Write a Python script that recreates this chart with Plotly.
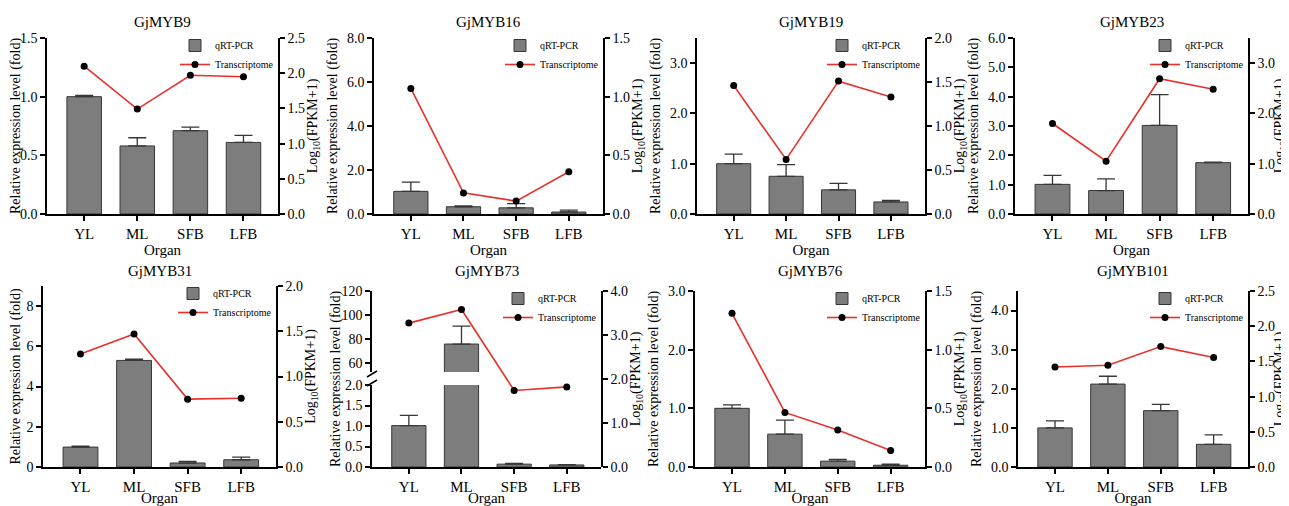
import plotly.graph_objects as go

# The page body keeps an 8px margin, so the figure is drawn 8px smaller and
# reference pixel positions are shifted by that offset.
PAGE_W, PAGE_H = 1289, 506
OFF = 8
W, H = PAGE_W - OFF, PAGE_H - OFF

organs = ["YL", "ML", "SFB", "LFB"]
gene_names = ["GjMYB9", "GjMYB16", "GjMYB19", "GjMYB23",
              "GjMYB31", "GjMYB73", "GjMYB76", "GjMYB101"]

# qRT-PCR relative expression (mean), error (upper SD), transcriptome log10(FPKM+1)
myb9_qpcr = [1.00, 0.58, 0.71, 0.61]
myb9_err = [0.01, 0.07, 0.03, 0.06]
myb9_fpkm = [2.10, 1.49, 1.97, 1.95]

myb16_qpcr = [1.03, 0.33, 0.28, 0.09]
myb16_err = [0.42, 0.04, 0.19, 0.09]
myb16_fpkm = [1.07, 0.18, 0.11, 0.36]

myb19_qpcr = [1.00, 0.75, 0.48, 0.24]
myb19_err = [0.19, 0.23, 0.13, 0.03]
myb19_fpkm = [1.46, 0.62, 1.51, 1.33]

myb23_qpcr = [1.01, 0.80, 3.02, 1.75]
myb23_err = [0.31, 0.40, 1.05, 0.02]
myb23_fpkm = [1.80, 1.05, 2.69, 2.48]

myb31_qpcr = [0.99, 5.30, 0.20, 0.36]
myb31_err = [0.05, 0.06, 0.08, 0.13]
myb31_fpkm = [1.25, 1.47, 0.75, 0.76]

myb73_qpcr = [1.01, 75.8, 0.07, 0.05]
myb73_err = [0.25, 15.0, 0.02, 0.01]
myb73_fpkm = [3.27, 3.58, 1.74, 1.82]

myb76_qpcr = [1.00, 0.56, 0.10, 0.03]
myb76_err = [0.06, 0.24, 0.03, 0.02]
myb76_fpkm = [1.31, 0.465, 0.315, 0.14]

myb101_qpcr = [1.00, 2.12, 1.44, 0.58]
myb101_err = [0.18, 0.20, 0.16, 0.24]
myb101_fpkm = [1.42, 1.445, 1.71, 1.555]

# axis settings
left_ranges = [[0, 1.5], [0, 8], [0, 3.5], [0, 6], [0, 9], [0, 2], [0, 3], [0, 4.5]]
left_dticks = [0.5, 2, 1, 1, 2, 0.5, 1, 1]
left_formats = [".1f", ".1f", ".1f", ".1f", "d", ".1f", ".1f", ".1f"]
right_ranges = [[0, 2.5], [0, 1.5], [0, 2], [0, 3.5], [0, 2], [0, 4], [0, 1.5], [0, 2.5]]
right_dticks = [0.5, 0.5, 0.5, 1, 0.5, 1, 0.5, 0.5]
myb73_upper_range = [52.5, 120]
myb73_upper_dtick = 20

qpcr_all = [myb9_qpcr, myb16_qpcr, myb19_qpcr, myb23_qpcr,
            myb31_qpcr, myb73_qpcr, myb76_qpcr, myb101_qpcr]
err_all = [myb9_err, myb16_err, myb19_err, myb23_err,
           myb31_err, myb73_err, myb76_err, myb101_err]
fpkm_all = [myb9_fpkm, myb16_fpkm, myb19_fpkm, myb23_fpkm,
            myb31_fpkm, myb73_fpkm, myb76_fpkm, myb101_fpkm]

# layout: panel boxes in page pixels (left, right, top, bottom)
boxes = [(47, 278, 38, 214), (374, 603, 38, 214), (697, 925, 38, 214), (1015, 1248, 38, 214),
         (43, 276, 286, 467), (372, 601, 291, 467), (695, 925, 291, 467), (1018, 1248, 291, 467)]
title_y = [22, 22, 22, 22, 271, 271, 271, 271]

FONT = "Liberation Serif, Times New Roman, Times, serif"
BAR_FILL = "#7d7d7d"
BAR_EDGE = "#363636"
RED = "#e8302c"


def fx(x):
    return (x - OFF) / W


def fy(y):
    return 1 - (y - OFF) / H


axis_common = dict(showline=True, linecolor="black", linewidth=1.5, ticks="outside",
                   ticklen=5, tickwidth=1.5, tickcolor="black", showgrid=False,
                   zeroline=False, tickfont=dict(family=FONT, size=14, color="black"))

fig = go.Figure()
layout = dict(width=W, height=H,
              margin=dict(l=0, r=0, t=0, b=0, pad=0, autoexpand=False), autosize=False,
              plot_bgcolor="rgba(0,0,0,0)", paper_bgcolor="white", showlegend=True,
              font=dict(family=FONT, color="black"), annotations=[], shapes=[])

for i in range(8):
    k = i + 1
    L, R, T, B = boxes[i]
    xn = "x" if k == 1 else f"x{k}"
    yl = "y" if k == 1 else f"y{k}"
    yr = f"y{k + 8}"
    lg = "legend" if k == 1 else f"legend{k}"

    bar_common = dict(x=organs, y=qpcr_all[i], name="qRT-PCR", width=0.65,
                      marker=dict(color=BAR_FILL, line=dict(color=BAR_EDGE, width=1)),
                      error_y=dict(type="data", array=err_all[i], arrayminus=[0] * 4,
                                   symmetric=False, color=BAR_EDGE, thickness=1.3, width=9),
                      legend=lg)
    fig.add_trace(go.Bar(xaxis=xn, yaxis=yl, showlegend=True, **bar_common))
    if k == 6:
        fig.add_trace(go.Bar(xaxis=xn, yaxis="y17", showlegend=False, **bar_common))
    fig.add_trace(go.Scatter(x=organs, y=fpkm_all[i], name="Transcriptome",
                             mode="lines+markers", xaxis=xn, yaxis=yr, legend=lg,
                             line=dict(color=RED, width=1.6),
                             marker=dict(color="black", size=7)))

    xkey = "xaxis" if k == 1 else f"xaxis{k}"
    layout[xkey] = dict(axis_common, domain=[fx(L), fx(R)], anchor=yl,
                        type="category", categoryorder="array", categoryarray=organs,
                        range=[-0.7, 3.65],
                        tickfont=dict(family=FONT, size=15, color="black"),
                        title=dict(text="Organ", font=dict(family=FONT, size=15), standoff=3))

    ykey = "yaxis" if k == 1 else f"yaxis{k}"
    left_title = dict(text="Relative expression level (fold)", font=dict(family=FONT, size=14),
                      standoff=6)
    right_title = dict(text="Log<sub>10</sub>(FPKM+1)", font=dict(family=FONT, size=14),
                       standoff=1)
    if k == 6:
        layout[ykey] = dict(axis_common, domain=[fy(467), fy(385)], anchor=xn,
                            range=left_ranges[i], dtick=left_dticks[i], tick0=0,
                            tickformat=left_formats[i])
        layout["yaxis17"] = dict(axis_common, domain=[fy(372), fy(291)], anchor=xn,
                                 range=myb73_upper_range, dtick=myb73_upper_dtick, tick0=0,
                                 tickformat="d")
        layout["annotations"].append(dict(text=left_title["text"], textangle=-90,
                                          x=fx(336), y=fy(379), xref="paper", yref="paper",
                                          xanchor="center", yanchor="middle",
                                          showarrow=False, font=dict(family=FONT, size=14)))
        # axis break marks
        for yy in (374, 383):
            layout["shapes"].append(dict(type="line", xref="paper", yref="paper",
                                         x0=fx(L - 5), y0=fy(yy + 3), x1=fx(L + 5), y1=fy(yy - 3),
                                         line=dict(color="black", width=1.5)))
        layout[f"yaxis{k + 8}"] = dict(axis_common, domain=[fy(B), fy(T)], anchor=xn,
                                       side="right", range=right_ranges[i],
                                       dtick=right_dticks[i], tick0=0, tickformat=".1f",
                                       title=right_title)
    else:
        layout[ykey] = dict(axis_common, domain=[fy(B), fy(T)], anchor=xn,
                            range=left_ranges[i], dtick=left_dticks[i], tick0=0,
                            tickformat=left_formats[i], title=left_title)
        layout[f"yaxis{k + 8}"] = dict(axis_common, overlaying=yl, anchor=xn,
                                       side="right", range=right_ranges[i],
                                       dtick=right_dticks[i], tick0=0, tickformat=".1f",
                                       title=right_title)

    layout[lg] = dict(x=fx(R + 1), y=fy(T - 7), xanchor="right", yanchor="top",
                      xref="paper", yref="paper",
                      font=dict(family=FONT, size=10, color="black"),
                      bgcolor="rgba(0,0,0,0)", itemwidth=30, tracegroupgap=0)

    layout["annotations"].append(dict(text=gene_names[i], x=fx((L + R) / 2), y=fy(title_y[i]),
                                      xref="paper", yref="paper", showarrow=False,
                                      xanchor="center", yanchor="middle",
                                      font=dict(family=FONT, size=15)))

fig.update_layout(**layout)
fig.write_html("out.html")
